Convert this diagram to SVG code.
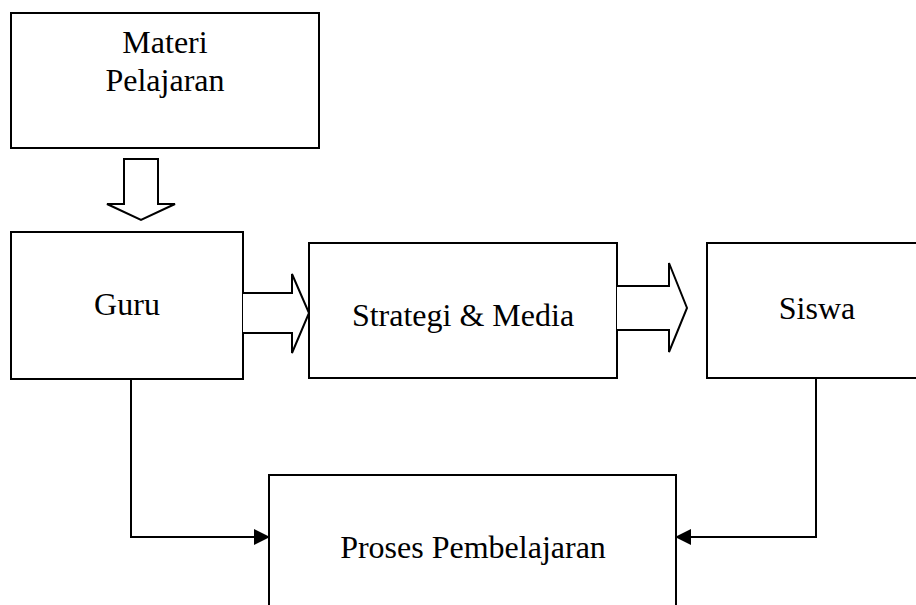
<svg xmlns="http://www.w3.org/2000/svg" width="916" height="605" viewBox="0 0 916 605">
<style>
.box{fill:#fff;stroke:#000;stroke-width:2}
.blk{fill:#fff;stroke:#000;stroke-width:2;stroke-linejoin:miter}
.ln{fill:none;stroke:#000;stroke-width:2}
text{font-family:"Liberation Serif","Times New Roman",serif;font-size:32px;fill:#000;text-anchor:middle}
</style>
<defs>
<marker id="ah" markerWidth="16" markerHeight="16" refX="15" refY="8" orient="auto" markerUnits="userSpaceOnUse">
<path d="M0,0 L16,8 L0,16 Z" fill="#000"/>
</marker>
</defs>
<rect width="916" height="605" fill="#fff"/>
<g id="materi">
<rect class="box" x="11" y="13" width="308" height="135"/>
<text x="165" y="53">Materi</text>
<text x="165" y="91">Pelajaran</text>
</g>
<g id="guru">
<rect class="box" x="11" y="232" width="232" height="147"/>
<text x="127" y="315">Guru</text>
</g>
<g id="strategi">
<rect class="box" x="309" y="243" width="308" height="135"/>
<text x="463" y="326">Strategi &amp; Media</text>
</g>
<g id="siswa">
<rect class="box" x="707" y="243" width="230" height="135"/>
<text x="817" y="319">Siswa</text>
</g>
<g id="proses">
<rect class="box" x="269" y="475" width="407" height="150"/>
<text x="473" y="558">Proses Pembelajaran</text>
</g>
<g id="connectors">
<path class="blk" d="M124,159 L158,159 L158,204 L175,204 L141,220 L107,204 L124,204 Z"/>
<path class="blk" d="M243,293 L292,293 L292,274 L309,313 L292,353 L292,333 L243,333"/>
<path class="blk" d="M617,286 L669,286 L669,263 L687,308 L669,352 L669,330 L617,330"/>
<path class="ln" d="M131,379 L131,537 L269,537" marker-end="url(#ah)"/>
<path class="ln" d="M816,378 L816,537 L676,537" marker-end="url(#ah)"/>
</g>
</svg>
